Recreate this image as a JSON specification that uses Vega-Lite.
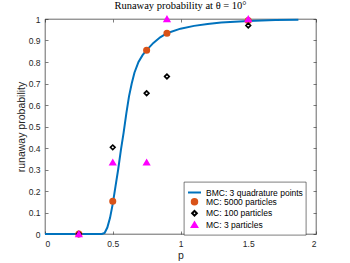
{
  "$schema": "https://vega.github.io/schema/vega-lite/v6.json",
  "width": 271,
  "height": 215,
  "autosize": "none",
  "padding": {"left": 45, "top": 19, "right": 34, "bottom": 29},
  "background": "white",
  "title": {"text": "Runaway probability at θ = 10°", "font": "Liberation Serif", "fontSize": 10.5, "fontWeight": "normal", "color": "#000000", "offset": 2},
  "config": {
    "view": {"stroke": "#262626", "strokeWidth": 0.7},
    "axis": {"grid": false, "domain": false, "tickColor": "#262626", "tickSize": -3, "tickWidth": 0.6, "labelPadding": 8, "labelColor": "#262626", "labelFont": "Liberation Sans", "labelFontSize": 8.5, "titleFont": "Liberation Sans", "titleFontSize": 10.5, "titleFontWeight": "normal", "titleColor": "#262626", "format": "~g"},
    "legend": {"orient": "none", "legendX": 139, "legendY": 163, "fillColor": "white", "strokeColor": "#262626", "strokeWidth": 0.6, "padding": 3, "labelFont": "Liberation Sans", "labelFontSize": 8.5, "labelColor": "#000000", "symbolStrokeWidth": 2, "rowPadding": -2.5, "labelOffset": 4}
  },
  "datasets": {
    "curve": [
      {"p": 0, "v": 0, "series": "BMC: 3 quadrature points"},
      {"p": 0.42, "v": 0, "series": "BMC: 3 quadrature points"},
      {"p": 0.44, "v": 0.005, "series": "BMC: 3 quadrature points"},
      {"p": 0.46, "v": 0.03, "series": "BMC: 3 quadrature points"},
      {"p": 0.48, "v": 0.075, "series": "BMC: 3 quadrature points"},
      {"p": 0.5, "v": 0.14, "series": "BMC: 3 quadrature points"},
      {"p": 0.52, "v": 0.22, "series": "BMC: 3 quadrature points"},
      {"p": 0.54, "v": 0.3, "series": "BMC: 3 quadrature points"},
      {"p": 0.56, "v": 0.39, "series": "BMC: 3 quadrature points"},
      {"p": 0.58, "v": 0.47, "series": "BMC: 3 quadrature points"},
      {"p": 0.6, "v": 0.56, "series": "BMC: 3 quadrature points"},
      {"p": 0.62, "v": 0.64, "series": "BMC: 3 quadrature points"},
      {"p": 0.64, "v": 0.7, "series": "BMC: 3 quadrature points"},
      {"p": 0.66, "v": 0.75, "series": "BMC: 3 quadrature points"},
      {"p": 0.69, "v": 0.8, "series": "BMC: 3 quadrature points"},
      {"p": 0.72, "v": 0.832, "series": "BMC: 3 quadrature points"},
      {"p": 0.75, "v": 0.855, "series": "BMC: 3 quadrature points"},
      {"p": 0.8, "v": 0.889, "series": "BMC: 3 quadrature points"},
      {"p": 0.85, "v": 0.915, "series": "BMC: 3 quadrature points"},
      {"p": 0.9, "v": 0.934, "series": "BMC: 3 quadrature points"},
      {"p": 1.0, "v": 0.955, "series": "BMC: 3 quadrature points"},
      {"p": 1.1, "v": 0.968, "series": "BMC: 3 quadrature points"},
      {"p": 1.2, "v": 0.977, "series": "BMC: 3 quadrature points"},
      {"p": 1.3, "v": 0.984, "series": "BMC: 3 quadrature points"},
      {"p": 1.5, "v": 0.991, "series": "BMC: 3 quadrature points"},
      {"p": 1.7, "v": 0.995, "series": "BMC: 3 quadrature points"},
      {"p": 1.87, "v": 0.997, "series": "BMC: 3 quadrature points"}
    ],
    "points": [
      {"p": 0.25, "v": 0, "series": "MC: 5000 particles"},
      {"p": 0.5, "v": 0.152, "series": "MC: 5000 particles"},
      {"p": 0.75, "v": 0.855, "series": "MC: 5000 particles"},
      {"p": 0.9, "v": 0.934, "series": "MC: 5000 particles"},
      {"p": 1.5, "v": 0.993, "series": "MC: 5000 particles"},
      {"p": 0.25, "v": 0, "series": "MC: 100 particles"},
      {"p": 0.5, "v": 0.403, "series": "MC: 100 particles"},
      {"p": 0.75, "v": 0.655, "series": "MC: 100 particles"},
      {"p": 0.9, "v": 0.733, "series": "MC: 100 particles"},
      {"p": 1.5, "v": 0.97, "series": "MC: 100 particles"},
      {"p": 0.25, "v": 0, "series": "MC: 3 particles"},
      {"p": 0.5, "v": 0.333, "series": "MC: 3 particles"},
      {"p": 0.75, "v": 0.333, "series": "MC: 3 particles"},
      {"p": 0.9, "v": 1, "series": "MC: 3 particles"},
      {"p": 1.5, "v": 1, "series": "MC: 3 particles"}
    ]
  },
  "layer": [
    {
      "data": {"name": "curve"},
      "mark": {"type": "line", "strokeWidth": 2, "clip": false},
      "encoding": {
        "x": {"field": "p", "type": "quantitative", "scale": {"domain": [0, 2]}, "axis": {"orient": "bottom", "title": "p", "values": [0, 0.5, 1, 1.5, 2], "titlePadding": 3}},
        "y": {"field": "v", "type": "quantitative", "scale": {"domain": [0, 1]}, "axis": {"orient": "left", "title": "runaway probability", "values": [0, 0.1, 0.2, 0.3, 0.4, 0.5, 0.6, 0.7, 0.8, 0.9, 1], "titlePadding": 2}},
        "stroke": {"field": "series", "type": "nominal", "title": null,
          "scale": {"domain": ["BMC: 3 quadrature points", "MC: 5000 particles", "MC: 100 particles", "MC: 3 particles"], "range": ["#0072BD", "#D95319", "#000000", "#FF00FF"]}}
      }
    },
    {
      "data": {"name": "points"},
      "mark": {"type": "point", "strokeWidth": 1.6, "opacity": 1, "clip": false},
      "encoding": {
        "x": {"field": "p", "type": "quantitative", "axis": {"orient": "top", "labels": false, "title": null, "values": [0, 0.5, 1, 1.5, 2]}},
        "y": {"field": "v", "type": "quantitative", "axis": {"orient": "right", "labels": false, "title": null, "values": [0, 0.1, 0.2, 0.3, 0.4, 0.5, 0.6, 0.7, 0.8, 0.9, 1]}},
        "stroke": {"field": "series", "type": "nominal", "title": null},
        "fill": {"field": "series", "type": "nominal", "title": null,
          "scale": {"domain": ["BMC: 3 quadrature points", "MC: 5000 particles", "MC: 100 particles", "MC: 3 particles"], "range": ["transparent", "#D95319", "#FFFFFF", "#FF00FF"]}},
        "shape": {"field": "series", "type": "nominal", "title": null,
          "scale": {"domain": ["BMC: 3 quadrature points", "MC: 5000 particles", "MC: 100 particles", "MC: 3 particles"], "range": ["stroke", "circle", "diamond", "triangle-up"]}},
        "size": {"field": "series", "type": "nominal", "title": null,
          "scale": {"type": "ordinal", "domain": ["BMC: 3 quadrature points", "MC: 5000 particles", "MC: 100 particles", "MC: 3 particles"], "range": [169, 30, 22, 30]}}
      }
    }
  ],
  "resolve": {"axis": {"x": "independent", "y": "independent"}}
}
